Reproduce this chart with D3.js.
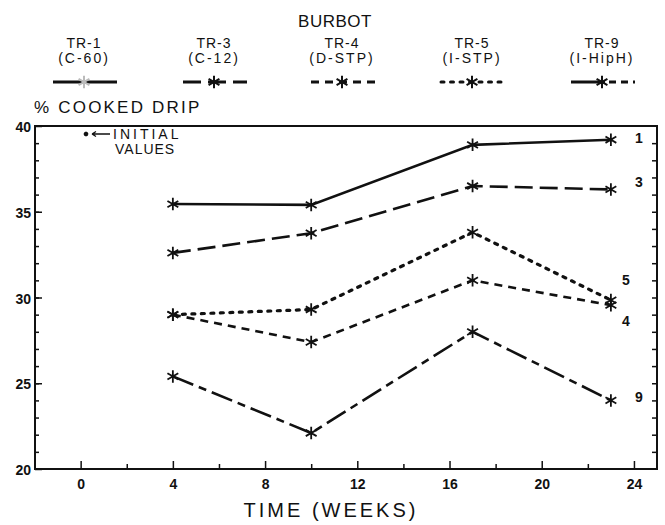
<!DOCTYPE html>
<html>
<head>
<meta charset="utf-8">
<script src="https://cdn.jsdelivr.net/npm/d3@7"></script>
<style>
  body { margin: 0; background: #fff; }
  text { font-family: 'Liberation Sans', 'DejaVu Sans', sans-serif; fill: #111; }
</style>
</head>
<body>
<div id="chart"></div>
<script>
// values
const weeks = [4, 10, 17, 23]
const treatments = ['TR-1', 'TR-3', 'TR-4', 'TR-5', 'TR-9']
const treatmentNames = ['(C-60)', '(C-12)', '(D-STP)', '(I-STP)', '(I-HipH)']
const endLabels = ['1', '3', '4', '5', '9']
const tr1 = [35.45, 35.4, 38.9, 39.2]
const tr3 = [32.6, 33.75, 36.5, 36.3]
const tr4 = [29.0, 27.4, 31.0, 29.55]
const tr5 = [29.0, 29.3, 33.8, 29.85]
const tr9 = [25.4, 22.1, 28.0, 24.0]
const xTickLabels = [0, 4, 8, 12, 16, 20, 24]
const yTickLabels = [20, 25, 30, 35, 40]

let series = [tr1, tr3, tr4, tr5, tr9]

;(function() {
  let svg = d3.select('#chart')
    .append('svg')
    .attr('width', 665)
    .attr('height', 525)

  let xPositionScale = d3.scaleLinear().domain([-1.98, 25]).range([35, 657])
  let yPositionScale = d3.scaleLinear().domain([20, 40]).range([469, 126])

  // line styles per treatment
  let dashes = ['none', '18,7', '8,6', '3,6.5', '22,6,8,6']
  let legendDashes = ['none', '18,7', '8,6', '3,6.5', '34,4,7,5,7,5']
  let caps = ['butt', 'butt', 'butt', 'round', 'butt']
  let legendX = [84, 214, 342, 472, 602]
  let labelOffsets = [[28, -2], [28, -7], [15, 16], [15, -20], [28, -3]]

  let asterisk = d3.symbol().type(d3.symbolAsterisk).size(110)

  // title + legend
  svg.append('text')
    .attr('x', 335).attr('y', 27)
    .attr('text-anchor', 'middle')
    .attr('font-size', 17)
    .attr('letter-spacing', 0.5)
    .text('BURBOT')

  let legend = svg.append('g')
    .selectAll('g')
    .data(treatments)
    .enter()
    .append('g')
    .attr('transform', (d, i) => `translate(${legendX[i]},0)`)

  legend.append('text')
    .attr('y', 48).attr('text-anchor', 'middle')
    .attr('font-size', 14)
    .attr('letter-spacing', 1)
    .text(d => d)
  legend.append('text')
    .attr('y', 63).attr('text-anchor', 'middle')
    .attr('font-size', 14)
    .attr('letter-spacing', 2)
    .text((d, i) => treatmentNames[i])
  legend.append('line')
    .attr('x1', -31).attr('x2', 33)
    .attr('y1', 82).attr('y2', 82)
    .attr('stroke', '#111')
    .attr('stroke-width', 3)
    .attr('stroke-dasharray', (d, i) => legendDashes[i])
    .attr('stroke-linecap', (d, i) => caps[i])
  legend.append('path')
    .attr('d', asterisk)
    .attr('transform', 'translate(0,82)')
    .attr('fill', 'none')
    .attr('stroke', (d, i) => i === 0 ? '#bbb' : '#111')
    .attr('stroke-width', 2)

  // y label
  svg.append('text')
    .attr('x', 34).attr('y', 113)
    .attr('font-size', 17)
    .attr('letter-spacing', 2.2)
    .text('% COOKED DRIP')

  // frame
  svg.append('rect')
    .attr('x', 35).attr('y', 126)
    .attr('width', 657 - 35).attr('height', 469 - 126)
    .attr('fill', 'none')
    .attr('stroke', '#111')
    .attr('stroke-width', 2)

  // axes
  let yAxis = d3.axisLeft(yPositionScale)
    .tickValues(yTickLabels)
    .tickSize(-7)
    .tickPadding(4)
  svg.append('g')
    .attr('class', 'axis y-axis')
    .attr('transform', 'translate(35,0)')
    .call(yAxis)

  let yMinor = d3.axisLeft(yPositionScale)
    .tickValues(d3.range(21, 40))
    .tickSize(-4)
    .tickFormat('')
  svg.append('g')
    .attr('class', 'axis')
    .attr('transform', 'translate(35,0)')
    .call(yMinor)

  let yRight = d3.axisRight(yPositionScale)
    .tickValues(d3.range(21, 40))
    .tickSize(-5)
    .tickFormat('')
  svg.append('g')
    .attr('class', 'axis')
    .attr('transform', 'translate(657,0)')
    .call(yRight)

  let xAxis = d3.axisBottom(xPositionScale)
    .tickValues(xTickLabels)
    .tickSize(-8)
    .tickPadding(10)
  svg.append('g')
    .attr('class', 'axis x-axis')
    .attr('transform', 'translate(0,469)')
    .call(xAxis)

  let xMinor = d3.axisBottom(xPositionScale)
    .tickValues([2, 6, 10, 14, 18, 22])
    .tickSize(-5)
    .tickFormat('')
  svg.append('g')
    .attr('class', 'axis')
    .attr('transform', 'translate(0,469)')
    .call(xMinor)

  svg.selectAll('.axis .domain').remove()
  svg.selectAll('.axis line').attr('stroke', '#111').attr('stroke-width', 1.5)
  svg.selectAll('.axis text')
    .attr('font-size', 14)
    .attr('font-weight', 'bold')
    .attr('fill', '#111')
    .style('font-family', "'Liberation Sans', sans-serif")
  svg.selectAll('.y-axis text').attr('dy', '0.4em')

  svg.append('text')
    .attr('x', 331).attr('y', 517)
    .attr('text-anchor', 'middle')
    .attr('font-size', 20)
    .attr('letter-spacing', 3)
    .text('TIME (WEEKS)')

  // initial values note
  let note = svg.append('g')
  note.append('path')
    .attr('d', d3.symbol().type(d3.symbolAsterisk).size(14))
    .attr('transform', 'translate(86,134)')
    .attr('fill', 'none').attr('stroke', '#111').attr('stroke-width', 2)
  note.append('path')
    .attr('d', 'M92,134 L110,134 M92,134 L96,131.5 M92,134 L96,136.5')
    .attr('fill', 'none').attr('stroke', '#111').attr('stroke-width', 1.3)
  note.append('text')
    .attr('x', 113).attr('y', 139)
    .attr('font-size', 14).attr('letter-spacing', 3)
    .text('INITIAL')
  note.append('text')
    .attr('x', 115).attr('y', 154)
    .attr('font-size', 14).attr('letter-spacing', 1)
    .text('VALUES')

  // the lines
  let line = d3.line()
    .x((d, i) => xPositionScale(weeks[i]))
    .y(d => yPositionScale(d))

  svg.append('g')
    .selectAll('.treatment')
    .data(series)
    .enter()
    .append('path')
    .attr('class', 'treatment')
    .attr('d', line)
    .attr('fill', 'none')
    .attr('stroke', '#111')
    .attr('stroke-width', (d, i) => i === 3 ? 3.2 : 2.6)
    .attr('stroke-dasharray', (d, i) => dashes[i])
    .attr('stroke-linecap', (d, i) => caps[i])

  series.forEach((values, s) => {
    svg.append('g')
      .selectAll('path')
      .data(values)
      .enter()
      .append('path')
      .attr('d', asterisk)
      .attr('transform', (d, i) => `translate(${xPositionScale(weeks[i])},${yPositionScale(d)})`)
      .attr('fill', 'none')
      .attr('stroke', '#111')
      .attr('stroke-width', 1.8)

    let last = values[values.length - 1]
    svg.append('text')
      .attr('x', xPositionScale(weeks[weeks.length - 1]) + labelOffsets[s][0])
      .attr('y', yPositionScale(last) + labelOffsets[s][1])
      .attr('dy', '0.35em')
      .attr('text-anchor', 'middle')
      .attr('font-size', 14)
      .attr('font-weight', 'bold')
      .text(endLabels[s])
  })
})()
</script>
</body>
</html>
